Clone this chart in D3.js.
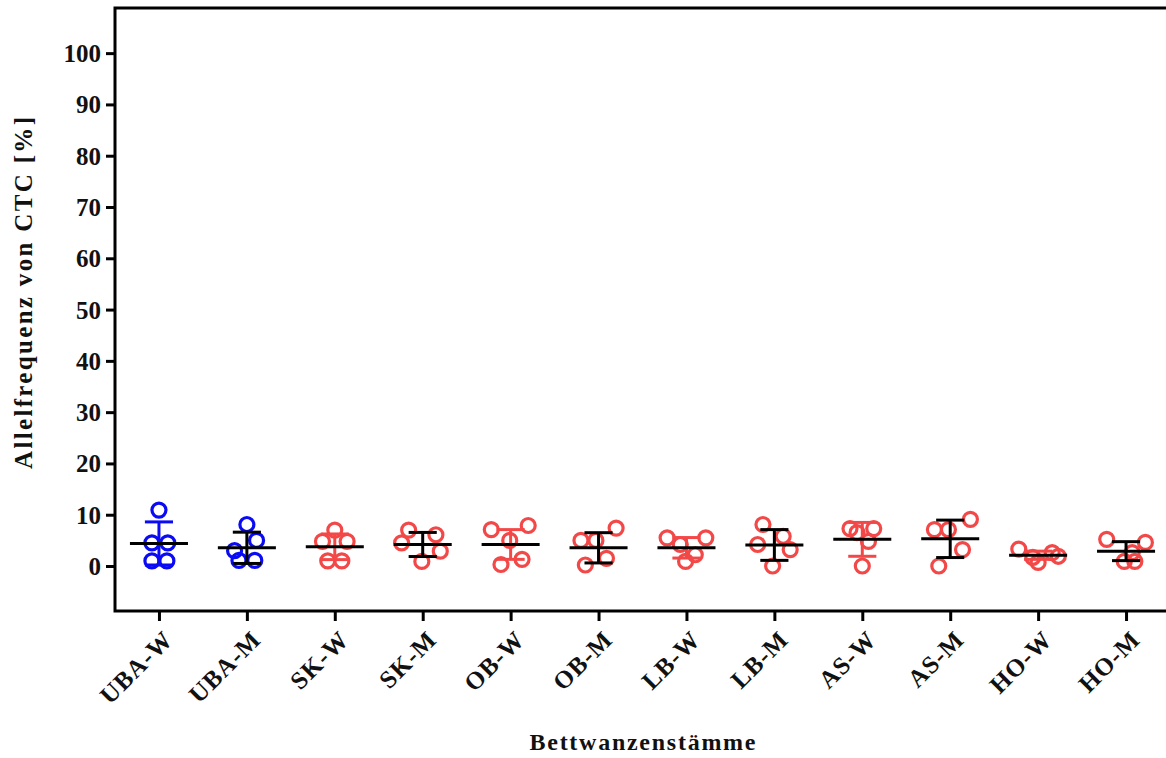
<!DOCTYPE html>
<html>
<head>
<meta charset="utf-8">
<script src="https://cdn.jsdelivr.net/npm/d3@7"></script>
<style>
  html, body { margin: 0; padding: 0; background: #fff; }
  svg { display: block; }
  text { font-family: "Liberation Serif", "Times New Roman", serif; font-weight: bold; fill: #111; }
</style>
</head>
<body>
<svg id="chart" width="1166" height="758"></svg>
<script>
// ---- data ----
const categories = ["UBA-W","UBA-M","SK-W","SK-M","OB-W","OB-M","LB-W","LB-M","AS-W","AS-M","HO-W","HO-M"];
const groupType  = ["UBA","UBA","other","other","other","other","other","other","other","other","other","other"];
const pointValues = [
  [10.9, 4.5, 4.5, 1.0, 1.0],
  [8.1, 5.0, 3.0, 1.1, 1.1],
  [7.0, 4.8, 4.8, 1.0, 1.0],
  [7.0, 6.1, 4.5, 2.9, 0.9],
  [7.1, 7.9, 5.0, 0.3, 1.3],
  [7.4, 5.0, 5.0, 0.2, 1.5],
  [5.5, 5.5, 4.2, 2.2, 0.9],
  [8.1, 5.8, 4.2, 3.2, 0.0],
  [7.3, 7.3, 6.5, 4.8, 0.0],
  [9.1, 7.1, 7.1, 3.2, 0.0],
  [3.3, 1.7, 0.7, 2.6, 1.9],
  [5.2, 4.6, 2.6, 0.9, 0.9]
];
// horizontal scatter of each point, as a fraction of the category step
const jitter = [
  [0, -0.08, 0.10, -0.08, 0.09],
  [0, 0.11, -0.14, -0.09, 0.09],
  [0, -0.14, 0.14, -0.08, 0.08],
  [-0.16, 0.15, -0.24, 0.20, -0.01],
  [-0.22, 0.20, -0.01, -0.11, 0.13],
  [0.20, -0.20, -0.03, -0.15, 0.09],
  [-0.22, 0.22, -0.07, 0.10, -0.01],
  [-0.13, 0.10, -0.19, 0.18, -0.02],
  [-0.14, 0.13, -0.06, 0.07, 0.0],
  [0.23, -0.18, -0.02, 0.14, -0.13],
  [-0.22, -0.06, 0.0, 0.16, 0.23],
  [-0.22, 0.22, 0.07, -0.02, 0.10]
];
const means = [4.4, 3.55, 3.75, 4.2, 4.2, 3.55, 3.55, 4.1, 5.2, 5.3, 2.1, 2.9];
const sds   = [4.2, 3.05, 2.5, 2.35, 2.9, 2.95, 2.0, 3.0, 3.3, 3.65, 0.8, 1.85];
const yTicks = [0,10,20,30,40,50,60,70,80,90,100];
const yTitle = "Allelfrequenz von CTC [%]";
const xTitle = "Bettwanzenstämme";

// ---- layout ----
const svg = d3.select("#chart");
const plot = {left: 115, right: 1170, top: 8, bottom: 611};
const colorScale = d3.scaleOrdinal().domain(["UBA","other"]).range(["#0a0af5","#f34848"]);

const x = d3.scalePoint().domain(categories).range([plot.left, plot.right]).padding(0.5);
const step = x.step();
const y = d3.scaleLinear().domain([-8.77, 108.8]).range([plot.bottom, plot.top]);

// frame
svg.append("rect")
  .attr("x", plot.left).attr("y", plot.top)
  .attr("width", plot.right - plot.left).attr("height", plot.bottom - plot.top)
  .attr("fill", "none").attr("stroke", "#000").attr("stroke-width", 3);

// y axis
const yAxis = svg.append("g")
  .attr("transform", `translate(${plot.left},0)`)
  .call(d3.axisLeft(y).tickValues(yTicks).tickSize(9).tickPadding(5).tickFormat(d3.format("d")));
yAxis.select(".domain").remove();
yAxis.selectAll(".tick line").attr("stroke", "#000").attr("stroke-width", 3);
yAxis.selectAll(".tick text").style("font-size", "25px").attr("fill", "#111")
  .style("font-family", '"Liberation Serif", serif').style("font-weight", "bold")
  .attr("dy", "0.34em");

// x axis
const xAxis = svg.append("g")
  .attr("transform", `translate(0,${plot.bottom})`)
  .call(d3.axisBottom(x).tickSize(10).tickPadding(6));
xAxis.select(".domain").remove();
xAxis.selectAll(".tick line").attr("stroke", "#000").attr("stroke-width", 3);
xAxis.selectAll(".tick text")
  .style("font-size", "25px").attr("fill", "#111")
  .style("font-family", '"Liberation Serif", serif').style("font-weight", "bold")
  .style("letter-spacing", "1px")
  .attr("text-anchor", "end")
  .attr("dy", null).attr("y", null)
  .attr("transform", "translate(15,30) rotate(-45)");

// points
const pts = [];
pointValues.forEach((vals, i) => vals.forEach((v, j) => pts.push({cat: categories[i], g: groupType[i], v, dx: jitter[i][j]})));
svg.append("g").selectAll("circle").data(pts).join("circle")
  .attr("cx", d => x(d.cat) + d.dx * step)
  .attr("cy", d => y(d.v))
  .attr("r", 7)
  .attr("fill", "none")
  .attr("stroke", d => colorScale(d.g))
  .attr("stroke-width", 3.2);

// error bars (mean ± SD); W strains in point colour, M strains in black
const stats = categories.map((c, i) => ({cat: c, g: groupType[i], m: means[i], s: sds[i], female: c.endsWith("-W")}));
const barColor = d => d.female ? colorScale(d.g) : "#000";
const eb = svg.append("g").selectAll("g").data(stats).join("g");
eb.append("line")
  .attr("x1", d => x(d.cat)).attr("x2", d => x(d.cat))
  .attr("y1", d => y(d.m - d.s)).attr("y2", d => y(d.m + d.s))
  .attr("stroke", barColor).attr("stroke-width", 3);
[1, -1].forEach(sign => {
  eb.append("line")
    .attr("x1", d => x(d.cat) - step * 0.16).attr("x2", d => x(d.cat) + step * 0.16)
    .attr("y1", d => y(d.m + sign * d.s)).attr("y2", d => y(d.m + sign * d.s))
    .attr("stroke", barColor).attr("stroke-width", 3);
});
// mean lines
svg.append("g").selectAll("line").data(stats).join("line")
  .attr("x1", d => x(d.cat) - step * 0.33).attr("x2", d => x(d.cat) + step * 0.33)
  .attr("y1", d => y(d.m)).attr("y2", d => y(d.m))
  .attr("stroke", "#000").attr("stroke-width", 3);

// axis titles
svg.append("text")
  .attr("transform", `translate(32,293) rotate(-90)`)
  .attr("text-anchor", "middle")
  .style("font-size", "25px")
  .attr("textLength", 352).attr("lengthAdjust", "spacing")
  .text(yTitle);
svg.append("text")
  .attr("x", (plot.left + plot.right) / 2).attr("y", 750)
  .attr("text-anchor", "middle")
  .style("font-size", "24px")
  .attr("textLength", 226).attr("lengthAdjust", "spacing")
  .text(xTitle);
</script>
</body>
</html>
